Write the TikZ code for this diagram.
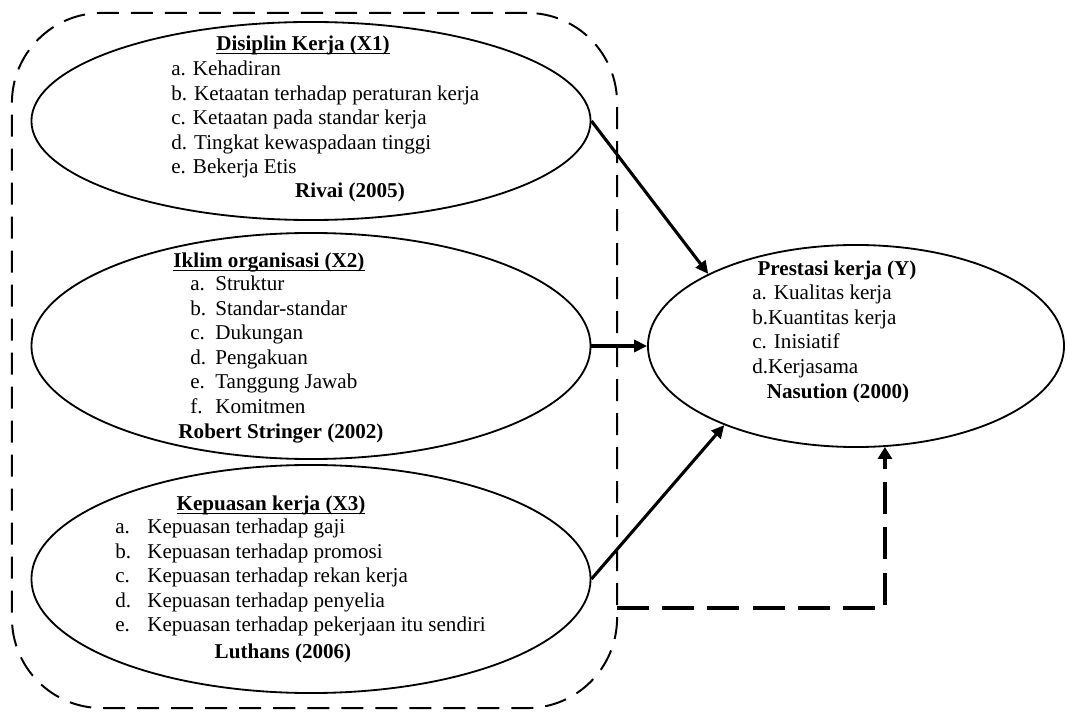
\documentclass[tikz,border=0pt]{standalone}
\usepackage{fontspec}
\setmainfont{Liberation Serif}
\usetikzlibrary{arrows.meta,shapes.geometric}

\begin{document}
\begin{tikzpicture}[
		x=0.025cm, y=-0.025cm,
		every node/.style={font=\fontsize{15}{17.4}\selectfont, inner sep=0pt},
		var/.style={ellipse, draw, line width=1.3pt, minimum width=13.975cm},
		vtitle/.style={anchor=base, font=\fontsize{15}{17.4}\selectfont\bfseries},
		vitems/.style={anchor=north west, align=left},
		vsource/.style={anchor=base, font=\fontsize{15}{17.4}\selectfont\bfseries},
		groupbox/.style={draw, dash pattern=on 0.55cm off 0.3cm, line width=1.4pt, rounded corners=2.25cm, minimum width=15.125cm, minimum height=17.375cm},
		arrow/.style={-{Triangle[length=0.32cm,width=0.3cm]}, line width=2.2pt},
		dasharrow/.style={-{Triangle[length=0.3cm,width=0.35cm]}, line width=2.8pt, dash pattern=on 0.8cm off 0.33cm}
	]
		\useasboundingbox (0,0) rectangle (1067,715);
		
		% Independent variables
		\node[groupbox] (grp) at (314.5,360.5) {};
		\node[var, minimum height=4.95cm] (x1) at (311,121) {};
		\node[var, minimum height=5.65cm] (x2) at (311,346) {};
		\node[var, minimum height=5.7cm] (x3) at (311,579) {};
		
		% Dependent variable
		\node[ellipse, draw, line width=1.3pt, minimum width=10.4cm, minimum height=5.05cm] (y) at (856,346) {};
		
		% X1
		\node[vtitle] (x1t) at (303,51) {\underline{\smash{Disiplin Kerja (X1)}}};
		\node[vitems] (x1i) at (171,61) {a. Kehadiran\\ b. Ketaatan terhadap peraturan kerja\\ c. Ketaatan pada standar kerja\\ d. Tingkat kewaspadaan tinggi\\ e. Bekerja Etis};
		\node[vsource] (x1s) at (350,198) {Rivai (2005)};
		
		% X2
		\node[vtitle] (x2t) at (269,268) {\underline{\smash{Iklim organisasi (X2)}}};
		\node[vitems] (x2i) at (190,276) {\makebox[0.625cm][l]{a.}Struktur\\ \makebox[0.625cm][l]{b.}Standar-standar\\ \makebox[0.625cm][l]{c.}Dukungan\\ \makebox[0.625cm][l]{d.}Pengakuan\\ \makebox[0.625cm][l]{e.}Tanggung Jawab\\ \makebox[0.625cm][l]{f.}Komitmen};
		\node[vsource] (x2s) at (281,438) {Robert Stringer (2002)};
		
		% X3
		\node[vtitle] (x3t) at (271,511) {\underline{\smash{Kepuasan kerja (X3)}}};
		\node[vitems] (x3i) at (115,519) {\makebox[0.8cm][l]{a.}Kepuasan terhadap gaji\\ \makebox[0.8cm][l]{b.}Kepuasan terhadap promosi\\ \makebox[0.8cm][l]{c.}Kepuasan terhadap rekan kerja\\ \makebox[0.8cm][l]{d.}Kepuasan terhadap penyelia\\ \makebox[0.8cm][l]{e.}Kepuasan terhadap pekerjaan itu sendiri};
		\node[vsource] (x3s) at (283,658) {Luthans (2006)};
		
		% Y
		\node[vtitle] (yt) at (837,276) {Prestasi kerja (Y)};
		\node[vitems] (yi) at (752,285) {a. Kualitas kerja\\ b.Kuantitas kerja\\ c. Inisiatif\\ d.Kerjasama};
		\node[vsource] (ys) at (838,399) {Nasution (2000)};
		
		% Arrows
		\coordinate (gout) at (617,608);
		\draw[arrow] (x1.east) -- (y.154);
		\draw[arrow] (x2.east) -- (y.west);
		\draw[arrow] (x3.east) -- (y.211);
		\draw[dasharrow] (gout) -| (y.286);
	\end{tikzpicture}
\end{document}
